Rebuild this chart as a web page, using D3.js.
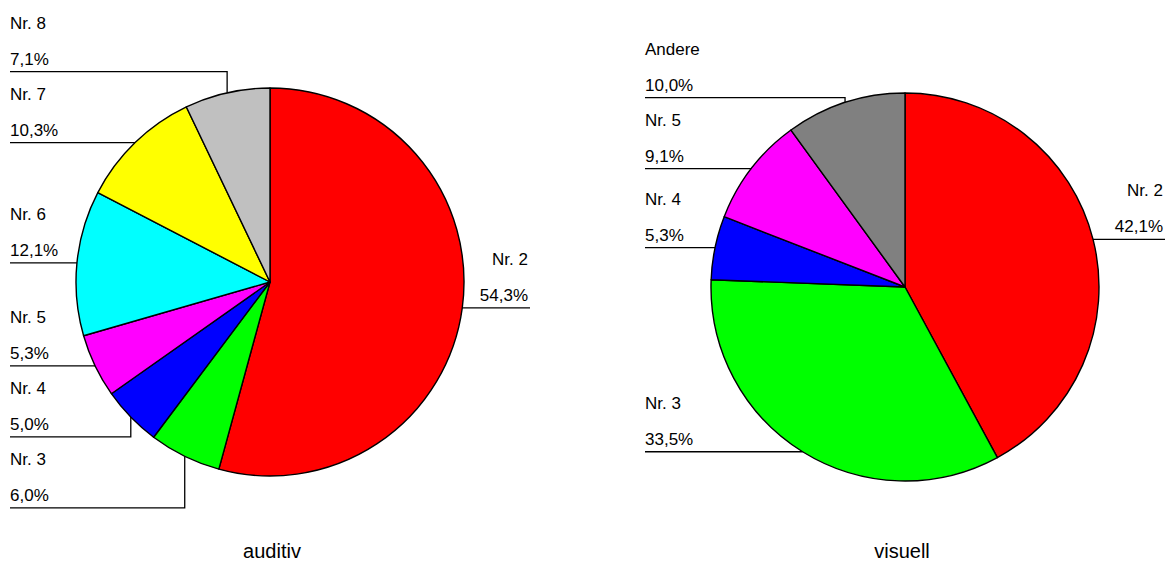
<!DOCTYPE html>
<html>
<head>
<meta charset="utf-8">
<script src="https://cdn.jsdelivr.net/npm/d3@7"></script>
<style>
    body { margin: 0; background: #fff; }
    text { font-family: "Liberation Sans", Arial, sans-serif; fill: #000; }
</style>
</head>
<body>
<div id="chart"></div>
<script>
// data of the two pies
var auditivLabels = ["Nr. 2", "Nr. 3", "Nr. 4", "Nr. 5", "Nr. 6", "Nr. 7", "Nr. 8"];
var auditivValues = [54.3, 6.0, 5.0, 5.3, 12.1, 10.3, 7.1];
var auditivColors = ["#ff0000", "#00ff00", "#0000ff", "#ff00ff", "#00ffff", "#ffff00", "#c0c0c0"];

var visuellLabels = ["Nr. 2", "Nr. 3", "Nr. 4", "Nr. 5", "Andere"];
var visuellValues = [42.1, 33.5, 5.3, 9.1, 10.0];
var visuellColors = ["#ff0000", "#00ff00", "#0000ff", "#ff00ff", "#808080"];

var titles = ["auditiv", "visuell"];

const width = 1165, height = 561;
const radius = 194, labelOffset = 260, minGap = 71;

const svg = d3.select("#chart")
    .append("svg")
    .attr("width", width)
    .attr("height", height);

var fmt = function (v) {
    return v.toFixed(1).replace(".", ",") + "%";
};

function drawPie(labels, values, colors, title, cx, cy, titleX) {
    var g = svg.append("g")
        .attr("transform", `translate(${cx}, ${cy})`);

    var pie = d3.pie().sort(null).value(function (d) { return d; });
    var arcs = pie(values);

    var arc = d3.arc().innerRadius(0).outerRadius(radius);
    var edge = d3.arc().innerRadius(radius).outerRadius(radius);

    g.selectAll("path")
        .data(arcs)
        .enter()
        .append("path")
        .attr("d", arc)
        .attr("fill", function (d, i) { return colors[i]; })
        .attr("stroke", "#000")
        .attr("stroke-width", 1.4)
        .attr("stroke-linejoin", "round");

    // label anchor points on the rim
    var items = arcs.map(function (d, i) {
        var p = edge.centroid(d);
        var mid = (d.startAngle + d.endAngle) / 2;
        return {name: labels[i], value: values[i], px: p[0], py: p[1], y: p[1], left: mid > Math.PI};
    });

    // push labels apart, starting from the horizontal middle
    [true, false].forEach(function (side) {
        var s = items.filter(function (d) { return d.left === side; });
        var below = s.filter(function (d) { return d.py >= 0; }).sort(function (a, b) { return a.py - b.py; });
        var above = s.filter(function (d) { return d.py < 0; }).sort(function (a, b) { return b.py - a.py; });
        for (var i = 1; i < below.length; i++) {
            below[i].y = Math.max(below[i].y, below[i - 1].y + minGap);
        }
        for (var j = 1; j < above.length; j++) {
            above[j].y = Math.min(above[j].y, above[j - 1].y - minGap);
        }
    });

    var lab = g.selectAll(".label")
        .data(items)
        .enter()
        .append("g")
        .attr("class", "label");

    lab.append("path")
        .attr("fill", "none")
        .attr("stroke", "#000")
        .attr("stroke-width", 1.3)
        .attr("d", function (d) {
            var x0 = d.left ? -labelOffset : labelOffset;
            return "M" + x0 + "," + d.y + "H" + d.px + "V" + d.py;
        });

    lab.append("text")
        .attr("x", function (d) { return d.left ? -labelOffset : labelOffset - 2; })
        .attr("y", function (d) { return d.y - 43; })
        .attr("text-anchor", function (d) { return d.left ? "start" : "end"; })
        .style("font-size", "17px")
        .text(function (d) { return d.name; });

    lab.append("text")
        .attr("x", function (d) { return d.left ? -labelOffset : labelOffset - 2; })
        .attr("y", function (d) { return d.y - 7; })
        .attr("text-anchor", function (d) { return d.left ? "start" : "end"; })
        .style("font-size", "17px")
        .text(function (d) { return fmt(d.value); });

    // title under the pie
    svg.append("text")
        .attr("x", titleX)
        .attr("y", 558)
        .attr("text-anchor", "middle")
        .style("font-size", "20px")
        .text(title);
}

drawPie(auditivLabels, auditivValues, auditivColors, titles[0], 270, 282, 272);
drawPie(visuellLabels, visuellValues, visuellColors, titles[1], 905, 287, 902);
</script>
</body>
</html>
